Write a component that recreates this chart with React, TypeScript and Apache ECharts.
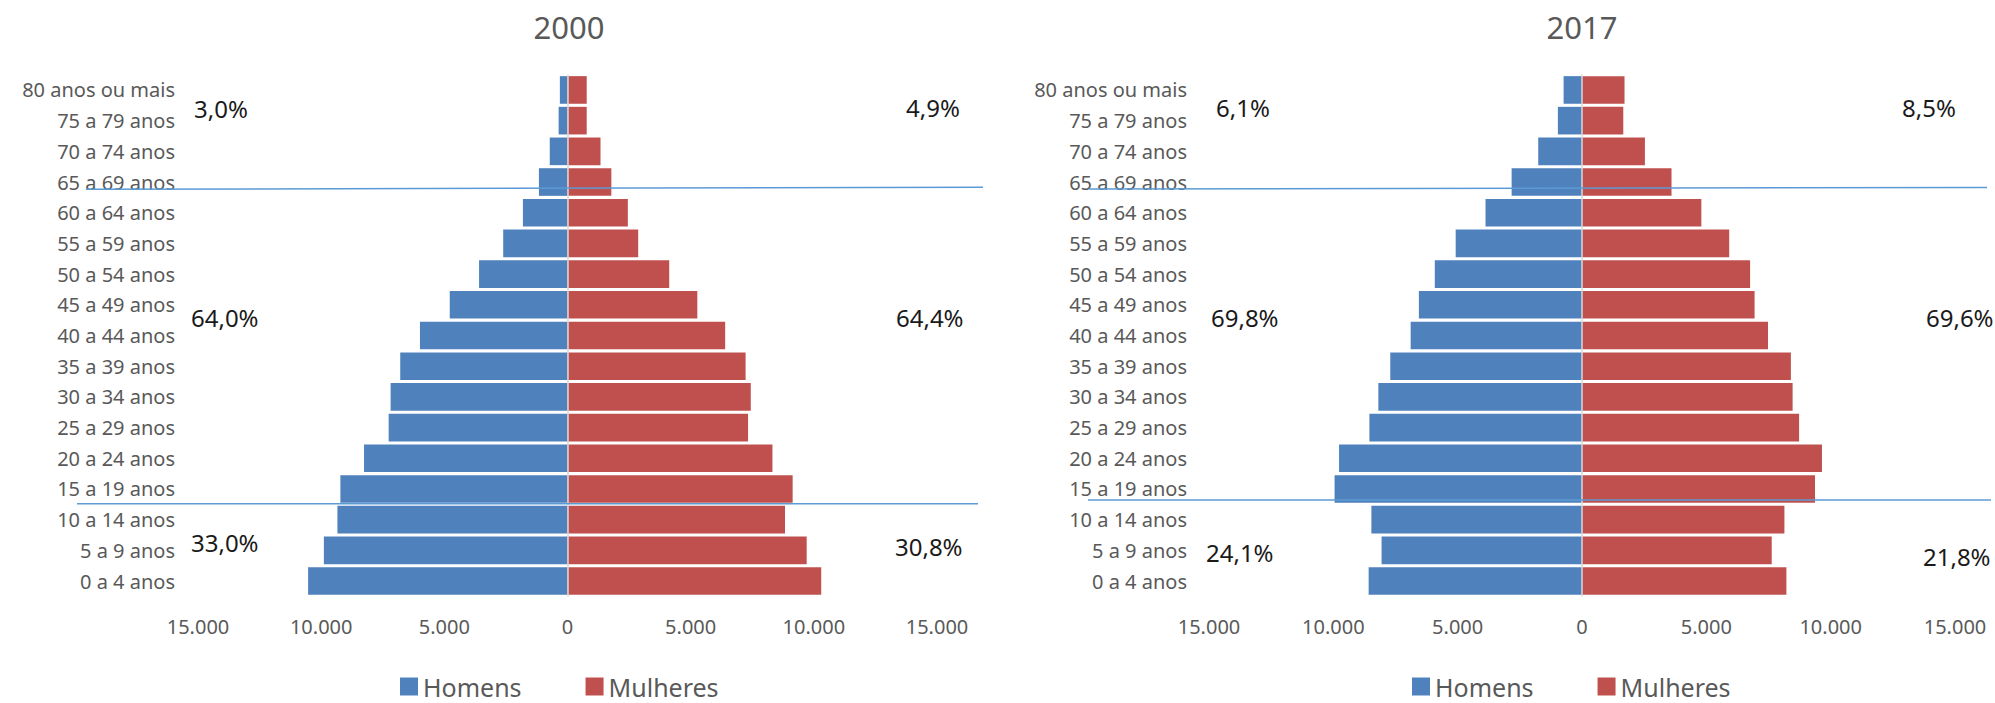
import React, { useEffect, useRef } from "react";
import * as echarts from "echarts";

const FONT = "'Noto Sans', sans-serif";
const BLUE = "#4F81BD";
const RED = "#C0504D";
const GREY_TEXT = "#595959";

// bottom -> top
const categories = [
  "0 a 4 anos", "5 a 9 anos", "10 a 14 anos", "15 a 19 anos", "20 a 24 anos",
  "25 a 29 anos", "30 a 34 anos", "35 a 39 anos", "40 a 44 anos", "45 a 49 anos",
  "50 a 54 anos", "55 a 59 anos", "60 a 64 anos", "65 a 69 anos", "70 a 74 anos",
  "75 a 79 anos", "80 anos ou mais",
];

const homens2000 = [10530, 9890, 9340, 9220, 8260, 7260, 7180, 6790, 5990, 4780, 3590, 2610, 1810, 1160, 720, 360, 310];
const mulheres2000 = [10300, 9710, 8830, 9140, 8320, 7330, 7440, 7230, 6400, 5270, 4130, 2870, 2450, 1780, 1340, 780, 780];
const homens2017 = [8580, 8060, 8470, 9950, 9770, 8550, 8190, 7710, 6890, 6560, 5920, 5080, 3880, 2830, 1760, 970, 740];
const mulheres2017 = [8220, 7630, 8140, 9370, 9650, 8730, 8470, 8400, 7480, 6940, 6760, 5920, 4800, 3600, 2530, 1660, 1710];

const titles = ["2000", "2017"];
const legendNames = ["Homens", "Mulheres"];

// percentage annotations: [text, x, y]
const pct2000: [string, number, number][] = [
  ["3,0%", 194, 108], ["4,9%", 906, 107],
  ["64,0%", 191, 317], ["64,4%", 896, 317],
  ["33,0%", 191, 542], ["30,8%", 895, 546],
];
const pct2017: [string, number, number][] = [
  ["6,1%", 1216, 107], ["8,5%", 1902, 107],
  ["69,8%", 1211, 317], ["69,6%", 1926, 317],
  ["24,1%", 1206, 552], ["21,8%", 1923, 556],
];

// separator lines: [x1, y1, x2, y2]
const sepLines: [number, number, number, number][] = [
  [86, 189.3, 983, 187.3],
  [77, 503.7, 978, 503.7],
  [1089, 189, 1987, 187.5],
  [1088, 500, 1991, 500],
];

const fmt = (v: number) => {
  const a = Math.abs(v);
  return String(a).replace(/\B(?=(\d{3})+(?!\d))/g, ".");
};

export default function App() {
  const ref = useRef<HTMLDivElement>(null);
  useEffect(() => {
    if (!ref.current) return;
    const chart = echarts.init(ref.current, undefined, { renderer: "svg" });

    const xAxisBase = {
      type: "value",
      min: -15000,
      max: 15000,
      interval: 5000,
      axisLabel: { formatter: fmt, color: GREY_TEXT, fontSize: 20, margin: 20, fontFamily: FONT, showMinLabel: true, showMaxLabel: true },
      splitLine: { show: false },
      axisLine: { show: false },
      axisTick: { show: false },
    };
    const yAxisBase = {
      type: "category",
      data: categories,
      axisLine: { show: false, onZero: false },
      axisTick: { show: false },
      splitLine: { show: false },
    };
    const zeroLine = {
      silent: true,
      symbol: "none",
      label: { show: false },
      lineStyle: { color: "#D9D9D9", width: 1.5, type: "solid" },
      data: [{ xAxis: 0 }],
    };
    const barBase = {
      type: "bar",
      barCategoryGap: "10%",
    };

    const textEls = [...pct2000, ...pct2017].map(([t, x, y]) => ({
      type: "text",
      x,
      y,
      z: 10,
      style: { text: t, fill: "#1a1a1a", font: `24px ${FONT}`, textAlign: "left", textVerticalAlign: "middle" },
    }));
    const titleEls = titles.map((t, i) => ({
      type: "text",
      x: i === 0 ? 569 : 1582,
      y: 27,
      style: { text: t, fill: GREY_TEXT, font: `31px ${FONT}`, textAlign: "center", textVerticalAlign: "middle" },
    }));
    const lineEls = sepLines.map(([x1, y1, x2, y2]) => ({
      type: "line",
      z: 20,
      shape: { x1, y1, x2, y2 },
      style: { stroke: "#5B9BD5", lineWidth: 1.5 },
    }));

    const legendBase = {
      data: legendNames,
      top: 669,
      itemWidth: 18,
      itemHeight: 18,
      itemGap: 64,
      icon: "rect",
      textStyle: { fontSize: 25, color: GREY_TEXT, fontFamily: FONT },
    };

    chart.setOption({
      animation: false,
      textStyle: { fontFamily: FONT },
      grid: [
        { left: 198, right: 1058, top: 74.6, bottom: 106.6 },
        { left: 1209, right: 40, top: 74.6, bottom: 106.6 },
      ],
      xAxis: [
        { ...xAxisBase, gridIndex: 0 },
        { ...xAxisBase, gridIndex: 1 },
      ],
      yAxis: [
        { ...yAxisBase, gridIndex: 0, axisLabel: { interval: 0, color: GREY_TEXT, fontSize: 20, margin: 23, fontFamily: FONT } },
        { ...yAxisBase, gridIndex: 1, axisLabel: { interval: 0, color: GREY_TEXT, fontSize: 20, margin: 22, fontFamily: FONT } },
      ],
      legend: [
        { ...legendBase, left: 395 },
        { ...legendBase, left: 1407 },
      ],
      series: [
        { ...barBase, name: "Homens", xAxisIndex: 0, yAxisIndex: 0, stack: "p2000", data: homens2000.map((v) => -v), itemStyle: { color: BLUE }, markLine: zeroLine },
        { ...barBase, name: "Mulheres", xAxisIndex: 0, yAxisIndex: 0, stack: "p2000", data: mulheres2000, itemStyle: { color: RED } },
        { ...barBase, name: "Homens", xAxisIndex: 1, yAxisIndex: 1, stack: "p2017", data: homens2017.map((v) => -v), itemStyle: { color: BLUE }, markLine: zeroLine },
        { ...barBase, name: "Mulheres", xAxisIndex: 1, yAxisIndex: 1, stack: "p2017", data: mulheres2017, itemStyle: { color: RED } },
      ],
      graphic: [...titleEls, ...textEls, ...lineEls],
    });

    return () => chart.dispose();
  }, []);

  return (
    <div
      ref={ref}
      style={{ position: "absolute", left: 0, top: 0, width: 1995, height: 703, background: "#fff" }}
    />
  );
}
